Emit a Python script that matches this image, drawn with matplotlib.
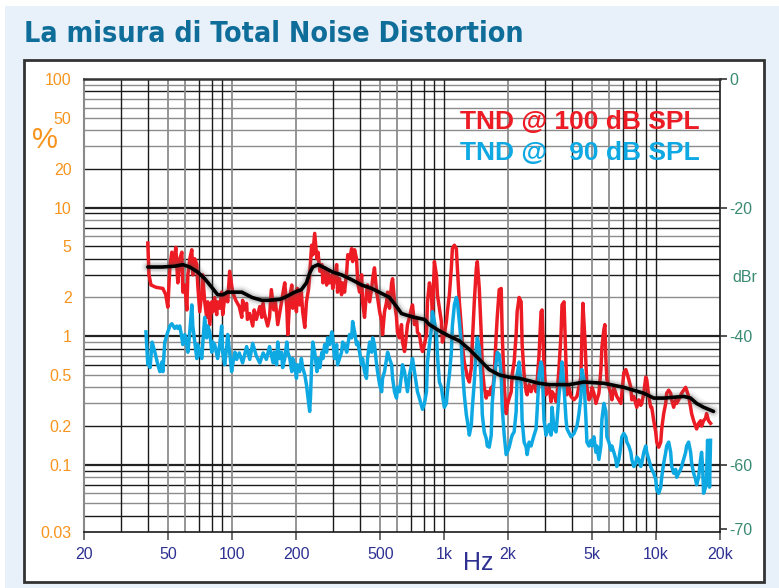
import numpy as np
import matplotlib
matplotlib.use('Agg')
import matplotlib.pyplot as plt
from matplotlib.patches import Rectangle
from matplotlib.ticker import NullFormatter, NullLocator

# TND @ 100 dB SPL (red), frequency in Hz / distortion in %
red_hz = [40, 40.5, 41.4, 43.7, 47.1, 48.6, 49.7, 50.8, 51.9, 53.0,
          54.2, 55.4, 56.6, 57.9, 58.5, 59.8, 61.1, 61.8, 63.1, 64.5,
          65.2, 66.6, 68.1, 68.8, 70.3, 71.9, 72.6, 74.2, 75.8, 76.7,
          78.4, 80.1, 81.0, 82.7, 84.5, 85.4, 87.3, 89.2, 90.2, 92.2,
          94.2, 95.2, 97.3, 99.4, 100.5, 104, 108, 111, 112, 114,
          117, 118, 121, 125, 127, 130, 135, 138, 140, 142,
          147, 150, 153, 157, 160, 164, 171, 175, 177, 181,
          183, 187, 191, 193, 197, 201, 203, 208, 212, 215,
          220, 224, 229, 232, 237, 240, 245, 251, 254, 259,
          265, 268, 273, 279, 282, 288, 295, 298, 304, 311,
          314, 321, 328, 332, 339, 347, 351, 358, 366, 370,
          378, 386, 391, 399, 408, 412, 421, 430, 435, 445,
          455, 460, 469, 480, 485, 496, 507, 512, 523, 535,
          541, 552, 565, 571, 583, 596, 602, 615, 629, 636,
          650, 664, 671, 686, 701, 709, 724, 740, 748, 764,
          781, 790, 807, 825, 834, 852, 871, 880, 899, 919,
          929, 949, 970, 981, 1002, 1024, 1035, 1058, 1081, 1093,
          1117, 1141, 1154, 1179, 1205, 1218, 1244, 1272, 1286, 1314,
          1343, 1358, 1387, 1418, 1433, 1464, 1496, 1513, 1545, 1579,
          1597, 1631, 1667, 1685, 1722, 1760, 1779, 1818, 1858, 1878,
          1919, 1961, 1983, 2026, 2071, 2093, 2138, 2185, 2209, 2257,
          2307, 2332, 2383, 2435, 2462, 2516, 2570, 2598, 2655, 2713,
          2743, 2803, 2864, 2896, 2959, 3024, 3057, 3124, 3192, 3227,
          3298, 3370, 3407, 3481, 3557, 3596, 3675, 3755, 3796, 3879,
          3964, 4095, 4230, 4415, 4463, 4512, 4612, 4713, 4817, 4923,
          4977, 5085, 5197, 5254, 5368, 5486, 5546, 5667, 5729, 5792,
          5855, 5982, 6113, 6180, 6315, 6520, 6814, 7037, 7191, 7270,
          7428, 7591, 7674, 7841, 8013, 8100, 8278, 8459, 8552, 8738,
          8930, 9027, 9224, 9426, 9529, 9737, 9951, 10060, 10279, 10505,
          10619, 10851, 11089, 11210, 11454, 11706, 11834, 12091, 12357, 12492,
          12764, 13181, 13474, 13770, 13920, 14223, 14536, 14695, 15015, 15346,
          15513, 15850, 16198, 16375, 16731, 17099, 17285, 17662, 18050]
red_pct = [5.3, 3.0, 2.5, 2.4, 2.35, 2.1, 1.68, 3.4, 4.5, 3.6,
           4.9, 2.6, 4.0, 4.5, 2.2, 2.5, 1.6, 3.0, 4.0, 4.7,
           3.0, 4.0, 3.6, 2.5, 1.55, 2.2, 3.0, 1.85, 1.4, 1.85,
           1.23, 1.85, 1.55, 2.0, 1.47, 1.85, 1.65, 2.2, 1.47, 2.0,
           2.2, 1.85, 3.2, 2.5, 2.2, 1.9, 1.7, 1.4, 1.9, 1.6,
           1.8, 1.35, 1.5, 1.2, 1.6, 1.35, 1.7, 1.4, 1.8, 1.5,
           1.2, 1.4, 2.3, 1.6, 1.85, 1.23, 1.85, 2.35, 2.6, 1.65,
           1.03, 2.0, 2.5, 1.65, 2.1, 1.55, 2.35, 1.75, 2.2, 1.55,
           1.17, 1.85, 2.3, 3.0, 5.1, 4.3, 6.3, 4.0, 4.5, 3.2,
           3.6, 2.6, 3.4, 2.5, 3.2, 2.6, 3.0, 2.35, 2.8, 3.6,
           2.2, 2.8, 2.1, 2.6, 2.2, 3.2, 4.3, 4.0, 4.8, 3.8,
           4.7, 4.0, 2.6, 2.2, 3.0, 1.85, 1.4, 2.2, 2.5, 1.85,
           2.35, 2.8, 3.4, 2.2, 2.0, 1.55, 1.3, 1.03, 1.55, 1.85,
           2.2, 1.65, 2.6, 2.8, 1.85, 1.4, 1.07, 0.97, 1.23, 0.9,
           0.76, 1.03, 1.23, 1.4, 1.65, 1.75, 1.23, 1.4, 1.07, 1.03,
           0.81, 0.76, 0.86, 1.03, 1.85, 2.6, 2.1, 1.4, 3.8, 3.0,
           2.1, 1.65, 1.3, 0.9, 1.03, 1.3, 1.55, 2.1, 3.4, 4.8,
           5.1, 4.8, 3.4, 1.85, 1.17, 0.86, 0.63, 0.53, 0.48, 0.44,
           0.57, 0.9, 1.85, 3.4, 3.8, 2.35, 1.03, 0.57, 0.4, 0.33,
           0.37, 0.35, 0.4, 0.35, 0.5, 1.03, 1.4, 2.3, 2.35, 1.03,
           0.42, 0.25, 0.29, 0.33, 0.37, 0.5, 0.63, 1.03, 1.55, 2.0,
           1.85, 0.86, 0.5, 0.37, 0.35, 0.42, 0.37, 0.4, 0.42, 0.37,
           0.44, 0.72, 1.55, 1.6, 0.57, 0.35, 0.37, 0.4, 0.31, 0.37,
           0.35, 0.31, 0.35, 0.57, 1.03, 1.75, 1.85, 0.63, 0.35, 0.4,
           0.34, 0.32, 0.34, 0.48, 1.0, 1.8, 0.94, 0.4, 0.32, 0.34,
           0.4, 0.36, 0.3, 0.32, 0.36, 0.55, 0.82, 1.13, 1.23, 0.66,
           0.46, 0.4, 0.36, 0.32, 0.4, 0.34, 0.3, 0.52, 0.55, 0.52,
           0.46, 0.4, 0.32, 0.34, 0.3, 0.28, 0.32, 0.29, 0.3, 0.36,
           0.48, 0.46, 0.34, 0.28, 0.28, 0.22, 0.18, 0.15, 0.137, 0.15,
           0.19, 0.25, 0.3, 0.36, 0.38, 0.36, 0.32, 0.28, 0.32, 0.3,
           0.32, 0.36, 0.38, 0.4, 0.38, 0.34, 0.28, 0.25, 0.22, 0.2,
           0.19, 0.21, 0.22, 0.2, 0.22, 0.23, 0.25, 0.22, 0.21]

# TND @ 90 dB SPL (blue)
blue_hz = [39.2, 40, 40.4, 41.0, 41.9, 43.2, 44.6, 45.6, 46.6, 47.1,
           48.1, 49.7, 50.8, 51.9, 53.6, 54.8, 55.4, 56.6, 57.9, 58.5,
           59.8, 61.1, 61.8, 63.1, 64.5, 65.2, 66.6, 68.1, 68.8, 70.3,
           71.9, 72.6, 74.2, 75.8, 76.7, 78.4, 80.1, 81.0, 82.7, 85.4,
           87.3, 89.2, 90.2, 92.2, 94.2, 95.2, 97.3, 99.4, 100.5, 103,
           105, 108, 112, 117, 121, 125, 130, 135, 140, 145,
           150, 156, 158, 162, 164, 167, 171, 173, 177, 181,
           183, 187, 191, 193, 197, 201, 203, 208, 212, 215,
           220, 224, 227, 232, 234, 237, 240, 245, 251, 254,
           259, 265, 268, 273, 279, 282, 288, 295, 298, 304,
           311, 314, 321, 328, 332, 339, 347, 351, 358, 366,
           370, 378, 386, 391, 399, 408, 412, 421, 430, 435,
           445, 455, 460, 469, 480, 485, 496, 507, 512, 523,
           535, 541, 552, 565, 571, 583, 596, 602, 615, 629,
           636, 650, 664, 671, 686, 701, 709, 724, 740, 748,
           764, 781, 790, 807, 825, 834, 852, 871, 880, 899,
           919, 929, 949, 970, 981, 1002, 1024, 1035, 1058, 1081,
           1093, 1117, 1141, 1154, 1179, 1205, 1218, 1244, 1272, 1286,
           1314, 1343, 1358, 1387, 1418, 1433, 1464, 1496, 1513, 1545,
           1579, 1597, 1631, 1667, 1685, 1722, 1760, 1779, 1818, 1858,
           1878, 1919, 1961, 1983, 2026, 2071, 2093, 2138, 2185, 2209,
           2257, 2307, 2332, 2383, 2435, 2462, 2516, 2570, 2598, 2655,
           2713, 2743, 2803, 2864, 2896, 2959, 3024, 3057, 3124, 3192,
           3227, 3298, 3370, 3407, 3481, 3557, 3596, 3675, 3755, 3796,
           3964, 4095, 4230, 4323, 4415, 4463, 4563, 4664, 4713, 4817,
           4923, 4977, 5085, 5197, 5254, 5368, 5486, 5546, 5667, 5792,
           5855, 5982, 6113, 6180, 6315, 6453, 6520, 6666, 6814, 6888,
           7037, 7191, 7270, 7428, 7591, 7674, 7841, 8013, 8100, 8278,
           8459, 8552, 8738, 8930, 9027, 9224, 9426, 9529, 9737, 9951,
           10060, 10279, 10505, 10619, 10851, 11089, 11210, 11454, 11706, 11834,
           12091, 12357, 12492, 12764, 13042, 13181, 13474, 13770, 13920, 14223,
           14536, 14695, 15015, 15346, 15513, 15850, 16198, 16375, 16553, 16731,
           17099, 17285, 17472, 17662, 17855, 18050]
blue_pct = [1.08, 0.6, 0.67, 0.57, 0.9, 0.75, 0.6, 0.53, 0.63, 0.53,
            0.9, 1.08, 1.2, 1.25, 1.15, 1.2, 1.15, 1.2, 0.97, 0.86,
            1.03, 0.86, 0.75, 1.08, 1.75, 1.2, 0.9, 0.67, 0.86, 0.75,
            0.67, 0.86, 1.4, 0.97, 1.2, 1.08, 0.75, 0.9, 0.86, 0.67,
            0.86, 1.2, 0.75, 0.6, 0.82, 1.03, 0.75, 0.53, 0.6, 0.75,
            0.66, 0.74, 0.62, 0.83, 0.66, 0.88, 0.7, 0.62, 0.74, 0.66,
            0.83, 0.62, 0.75, 0.6, 0.9, 0.67, 0.75, 0.57, 0.67, 0.9,
            0.75, 0.67, 0.53, 0.67, 0.6, 0.47, 0.6, 0.53, 0.67, 0.57,
            0.5, 0.42, 0.35, 0.26, 0.33, 0.6, 0.9, 0.75, 0.53, 0.67,
            0.57, 0.75, 0.67, 0.86, 0.75, 0.97, 0.86, 1.08, 0.97, 0.67,
            0.86, 0.6, 0.67, 0.75, 0.9, 0.86, 0.75, 0.86, 1.03, 0.97,
            1.3, 1.08, 0.86, 0.9, 0.75, 0.6, 0.67, 0.53, 0.47, 0.67,
            0.9, 0.75, 0.97, 0.86, 0.6, 0.53, 0.42, 0.37, 0.47, 0.53,
            0.67, 0.75, 0.67, 0.6, 0.47, 0.37, 0.33, 0.4, 0.37, 0.5,
            0.6, 0.53, 0.42, 0.37, 0.5, 0.6, 0.67, 0.53, 0.42, 0.37,
            0.33, 0.29, 0.27, 0.3, 0.37, 0.63, 0.86, 1.15, 1.55, 1.3,
            1.03, 0.72, 0.44, 0.4, 0.35, 0.28, 0.3, 0.37, 0.5, 0.75,
            1.2, 1.75, 2.0, 1.85, 1.3, 0.86, 0.57, 0.35, 0.245, 0.22,
            0.17, 0.205, 0.28, 0.44, 0.81, 0.97, 0.81, 0.44, 0.245, 0.18,
            0.16, 0.14, 0.137, 0.17, 0.3, 0.47, 0.63, 0.75, 0.72, 0.5,
            0.28, 0.17, 0.12, 0.125, 0.137, 0.16, 0.17, 0.18, 0.26, 0.5,
            0.63, 0.42, 0.22, 0.15, 0.137, 0.12, 0.15, 0.14, 0.15, 0.17,
            0.19, 0.26, 0.5, 0.63, 0.57, 0.22, 0.17, 0.18, 0.205, 0.17,
            0.28, 0.19, 0.18, 0.22, 0.35, 0.5, 0.63, 0.4, 0.225, 0.19,
            0.165, 0.175, 0.2, 0.25, 0.34, 0.55, 0.46, 0.225, 0.15, 0.14,
            0.155, 0.14, 0.165, 0.125, 0.14, 0.11, 0.14, 0.225, 0.3, 0.26,
            0.165, 0.15, 0.13, 0.14, 0.125, 0.11, 0.097, 0.11, 0.14, 0.165,
            0.175, 0.165, 0.15, 0.14, 0.125, 0.11, 0.097, 0.103, 0.115, 0.11,
            0.097, 0.103, 0.125, 0.14, 0.125, 0.11, 0.097, 0.092, 0.086, 0.077,
            0.064, 0.06, 0.067, 0.08, 0.103, 0.125, 0.14, 0.15, 0.125, 0.097,
            0.086, 0.092, 0.08, 0.086, 0.092, 0.097, 0.11, 0.125, 0.14, 0.15,
            0.125, 0.103, 0.086, 0.077, 0.07, 0.08, 0.11, 0.125, 0.097, 0.06,
            0.067, 0.08, 0.155, 0.125, 0.067, 0.155]

# smoothed average (black)
avg_hz = [40, 46.7, 53.6, 58.5, 63.1, 68.8, 74.2, 80.1, 85.4, 90.2,
          95.2, 103, 111, 124, 138, 147, 167, 177, 197, 212,
          224, 232, 240, 254, 273, 298, 328, 366, 408, 455,
          507, 552, 596, 629, 671, 724, 807, 852, 949, 1058,
          1179, 1314, 1464, 1631, 1818, 2026, 2257, 2516, 2803, 3124,
          3481, 3879, 4563, 5667, 7037, 8738, 9737, 10851, 13474, 14536,
          15513, 16731, 18645]
avg_pct = [3.45, 3.45, 3.5, 3.6, 3.45, 3.15, 2.8, 2.4, 2.1, 2.1,
           2.2, 2.2, 2.2, 2.0, 1.9, 1.9, 1.93, 2.0, 2.2, 2.3,
           2.6, 3.1, 3.45, 3.6, 3.4, 3.15, 3.0, 2.75, 2.5, 2.35,
           2.15, 2.0, 1.7, 1.5, 1.45, 1.4, 1.35, 1.23, 1.1, 1.0,
           0.92, 0.79, 0.66, 0.55, 0.5, 0.48, 0.47, 0.45, 0.43, 0.42,
           0.42, 0.42, 0.44, 0.43, 0.4, 0.36, 0.33, 0.33, 0.34, 0.33,
           0.3, 0.28, 0.26]

pct_ticks = [100, 50, 20, 10, 5, 2, 1, 0.5, 0.2, 0.1, 0.03]
pct_labels = ['100', '50', '20', '10', '5', '2', '1', '0.5', '0.2', '0.1', '0.03']
hz_ticks = [20, 50, 100, 200, 500, 1000, 2000, 5000, 10000, 20000]
hz_labels = ['20', '50', '100', '200', '500', '1k', '2k', '5k', '10k', '20k']
dbr_ticks = [0, -20, -40, -60, -70]

ORANGE = '#f7941d'
GREEN = '#3a8a72'
NAVY = '#2e3192'
RED = '#ed1c24'
BLUE = '#0ea8e3'
GRAY = '#8c8c8c'
DARK = '#1a1a1a'

plt.rcParams['font.family'] = ['Liberation Sans', 'DejaVu Sans']

fig = plt.figure(figsize=(7.79, 5.88), dpi=100)
fig.patches.append(Rectangle((5/779, 0), 1, 1 - 6/588, transform=fig.transFigure,
                             facecolor='#e8f0fa', edgecolor='none', zorder=-2))
fig.patches.append(Rectangle((24/779, 6/588), 740/779, 522/588, transform=fig.transFigure,
                             facecolor='white', edgecolor='#333333', lw=2, zorder=-1))

fig.text(24/779, 1 - 42/588, 'La misura di Total Noise Distortion',
         family='DejaVu Sans', stretch='condensed', weight='bold',
         fontsize=20.5, color='#0f6d99', ha='left', va='baseline')

ax = fig.add_axes([84/779, 1 - 532/588, 636/779, 453/588])
ax.set_xscale('log')
ax.set_yscale('log')
ax.set_xlim(20, 20000)
ax.set_ylim(0.03, 100)
ax.set_facecolor('none')

# grid
gray_h = [90, 70, 60, 50, 40, 30, 8, 6, 2, 0.9, 0.7, 0.5, 0.4, 0.3, 0.08, 0.06, 0.05]
for dec in [0.01, 0.1, 1, 10]:
    for m in range(1, 10):
        v = dec * m
        if v <= 0.03 or v >= 100:
            continue
        if m == 1:
            ax.axhline(v, color='#222222', lw=1.6, zorder=1)
        else:
            ax.axhline(v, color=GRAY if any(abs(v - g) < 1e-9 for g in gray_h) else DARK,
                       lw=1.0, zorder=1)
for dec in [10, 100, 1000, 10000]:
    for m in range(1, 10):
        v = dec * m
        if v <= 20 or v >= 20000:
            continue
        if m in (2, 5, 6) or v == 100:
            ax.axvline(v, color=GRAY, lw=1.3, zorder=1)
        else:
            ax.axvline(v, color=DARK, lw=1.0, zorder=1)

ax.spines['left'].set_color('#8a8a8a')
ax.spines['left'].set_linewidth(1.5)
ax.spines['top'].set_color('#333333')
ax.spines['top'].set_linewidth(1.8)
ax.spines['bottom'].set_color(DARK)
ax.spines['bottom'].set_linewidth(1.2)
ax.spines['right'].set_color(DARK)
ax.spines['right'].set_linewidth(1.2)

# curves
ax.plot(red_hz, red_pct, color=RED, lw=2.5, zorder=3, solid_joinstyle='round')
ax.plot(blue_hz, blue_pct, color=BLUE, lw=2.5, zorder=4, solid_joinstyle='round')
for w, a in [(10, 0.06), (7, 0.10), (5, 0.16)]:
    ax.plot(avg_hz, avg_pct, color='#555555', lw=w, alpha=a, zorder=5,
            solid_capstyle='round', solid_joinstyle='round')
ax.plot(avg_hz, avg_pct, color='black', lw=2.6, zorder=6,
        solid_capstyle='round', solid_joinstyle='round')

# left axis ticks
ax.set_yticks(pct_ticks)
ax.set_yticklabels(pct_labels)
ax.set_yticks([100, 10, 1, 0.1], minor=True)
ax.yaxis.set_minor_formatter(NullFormatter())
ax.tick_params(axis='y', which='major', length=0, pad=9, labelcolor=ORANGE, labelsize=11.5)
ax.tick_params(axis='y', which='minor', length=6, width=1.3, color='#333333')

# bottom ticks
ax.set_xticks(hz_ticks)
ax.set_xticklabels(hz_labels)
ax.xaxis.set_minor_locator(NullLocator())
ax.tick_params(axis='x', which='major', length=6, width=1.2, color='#555555',
               pad=5, labelcolor=NAVY, labelsize=11.5)

# right axis in dBr
ax2 = ax.twinx()
ax2.set_ylim(20 * np.log10(0.03 / 100), 0)
ax2.set_yticks(dbr_ticks)
ax2.set_yticklabels([str(t) for t in dbr_ticks])
ax2.tick_params(axis='y', length=5, width=1.2, color='#333333', pad=2,
                labelcolor=GREEN, labelsize=11.5)
for s in ax2.spines.values():
    s.set_visible(False)

fig.text(45/779, 1 - 140/588, '%', color=ORANGE, fontsize=21, ha='center', va='center')
fig.text(478/779, 1 - 563/588, 'Hz', color=NAVY, fontsize=18, ha='center', va='center')
fig.text(745/779, 1 - 277/588, 'dBr', color=GREEN, fontsize=11.5, ha='center', va='center')

fig.text(700/779, 1 - 122/588, 'TND @ 100 dB SPL', color=RED, weight='bold',
         fontsize=19, ha='right', va='center')
fig.text(700/779, 1 - 153/588, 'TND @   90 dB SPL', color=BLUE, weight='bold',
         fontsize=19, ha='right', va='center')

fig.savefig('out.png', dpi=100)
